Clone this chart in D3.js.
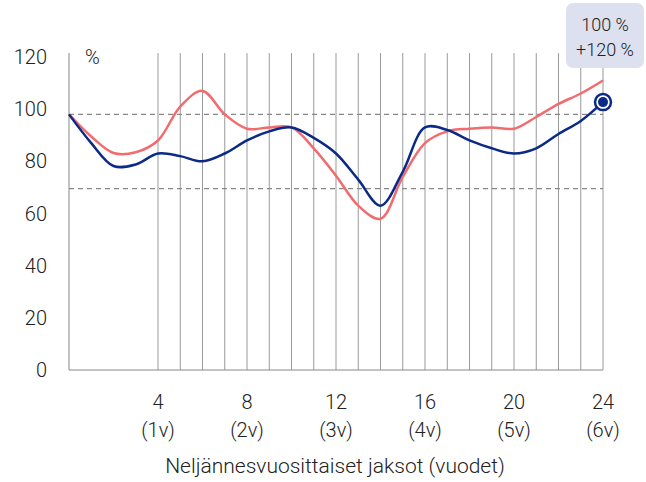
<!DOCTYPE html>
<html>
<head>
<meta charset="utf-8">
<script src="https://cdn.jsdelivr.net/npm/d3@7"></script>
<style>
  body { margin: 0; background: #fff; }
  text { font-family: Roboto, "Noto Sans", sans-serif; font-weight: 300; fill: #222; }
</style>
</head>
<body>
<div id="chart"></div>
<script>
/* Quarterly index chart, two smooth lines */

const quarters = d3.range(0, 25);
const redValues = [98, 89.5, 83.2, 83.5, 88, 101, 107, 98, 92.5, 93, 93, 85, 74.5, 63, 58, 74, 87, 91.5, 92.5, 93, 92.5, 97, 102, 106, 111];
const blueValues = [98, 87, 78.2, 78.8, 83, 82, 80, 83, 88, 91.5, 93, 89, 83, 73, 63, 76, 93, 92, 88, 85, 83, 85, 90.5, 95.5, 102.7];
const yTicks = [0, 20, 40, 60, 80, 100, 120];
const xTicks = [4, 8, 12, 16, 20, 24];
const yearLabels = ["(1v)", "(2v)", "(3v)", "(4v)", "(5v)", "(6v)"];
const refLines = [98, 69.5];
const boxLines = ["100 %", "+120 %"];

const width = 646,
      height = 482,
      margin = ({ top: 57, right: 43, bottom: 112, left: 69 });

let svg = d3.select("#chart")
    .append("svg")
    .attr("width", width)
    .attr("height", height);

let x = d3.scaleLinear()
    .domain([0, 24])
    .range([margin.left, width - margin.right]);

let y = d3.scaleLinear()
    .domain([0, 120])
    .range([height - margin.bottom, margin.top]);

// vertical grid lines for quarters 4..24
svg.append("g")
    .selectAll("line")
    .data(d3.range(4, 25))
    .join("line")
    .attr("x1", d => x(d))
    .attr("x2", d => x(d))
    .attr("y1", y(0))
    .attr("y2", y(121.5))
    .attr("stroke", "#999")
    .attr("stroke-width", 1);

// axis lines
svg.append("line")
    .attr("x1", x(0)).attr("x2", x(0))
    .attr("y1", y(0)).attr("y2", y(121.5))
    .attr("stroke", "#888");
svg.append("line")
    .attr("x1", x(0)).attr("x2", x(24))
    .attr("y1", y(0)).attr("y2", y(0))
    .attr("stroke", "#888");

// dashed reference lines
svg.append("g")
    .selectAll("line")
    .data(refLines)
    .join("line")
    .attr("x1", x(0))
    .attr("x2", x(24))
    .attr("y1", d => y(d))
    .attr("y2", d => y(d))
    .attr("stroke", "#888")
    .attr("stroke-width", 1.3)
    .attr("stroke-dasharray", "5,4");

// y tick labels
svg.append("g")
    .selectAll("text")
    .data(yTicks)
    .join("text")
    .attr("x", x(0) - 22)
    .attr("y", d => y(d))
    .attr("dy", "0.35em")
    .attr("text-anchor", "end")
    .style("font-size", "20px")
    .text(d => d);

svg.append("text")
    .attr("x", x(0) + 16)
    .attr("y", y(120))
    .attr("dy", "0.35em")
    .style("font-size", "20px")
    .text("%");

// x tick labels
svg.append("g")
    .selectAll("text")
    .data(xTicks)
    .join("text")
    .attr("x", d => x(d))
    .attr("y", y(0) + 39)
    .attr("text-anchor", "middle")
    .style("font-size", "20px")
    .text(d => d);

svg.append("g")
    .selectAll("text")
    .data(xTicks)
    .join("text")
    .attr("x", d => x(d))
    .attr("y", y(0) + 67)
    .attr("text-anchor", "middle")
    .style("font-size", "20px")
    .text((d, i) => yearLabels[i]);

svg.append("text")
    .attr("x", x(12) - 1)
    .attr("y", y(0) + 103)
    .attr("text-anchor", "middle")
    .style("font-size", "21px")
    .text("Neljännesvuosittaiset jaksot (vuodet)");

// lines
let line = d3.line()
    .x((d, i) => x(quarters[i]))
    .y(d => y(d))
    .curve(d3.curveCatmullRom.alpha(0.5));

svg.append("path")
    .attr("d", line(redValues))
    .attr("fill", "none")
    .attr("stroke", "#f26b6e")
    .attr("stroke-width", 2.5);

svg.append("path")
    .attr("d", line(blueValues))
    .attr("fill", "none")
    .attr("stroke", "#0b2a88")
    .attr("stroke-width", 2.5);

// end marker
svg.append("circle")
    .attr("cx", x(24))
    .attr("cy", y(blueValues[24]))
    .attr("r", 8)
    .attr("fill", "#fff")
    .attr("stroke", "#0b2a88")
    .attr("stroke-width", 2.5);
svg.append("circle")
    .attr("cx", x(24))
    .attr("cy", y(blueValues[24]))
    .attr("r", 5)
    .attr("fill", "#0b2a88");

// label box top right
svg.append("rect")
    .attr("x", 566)
    .attr("y", 3)
    .attr("width", 78)
    .attr("height", 65)
    .attr("rx", 7)
    .attr("fill", "#dde1ef");

svg.append("g")
    .selectAll("text")
    .data(boxLines)
    .join("text")
    .attr("x", 605)
    .attr("y", (d, i) => 31 + i * 25)
    .attr("text-anchor", "middle")
    .style("font-size", "18px")
    .text(d => d);
</script>
</body>
</html>
